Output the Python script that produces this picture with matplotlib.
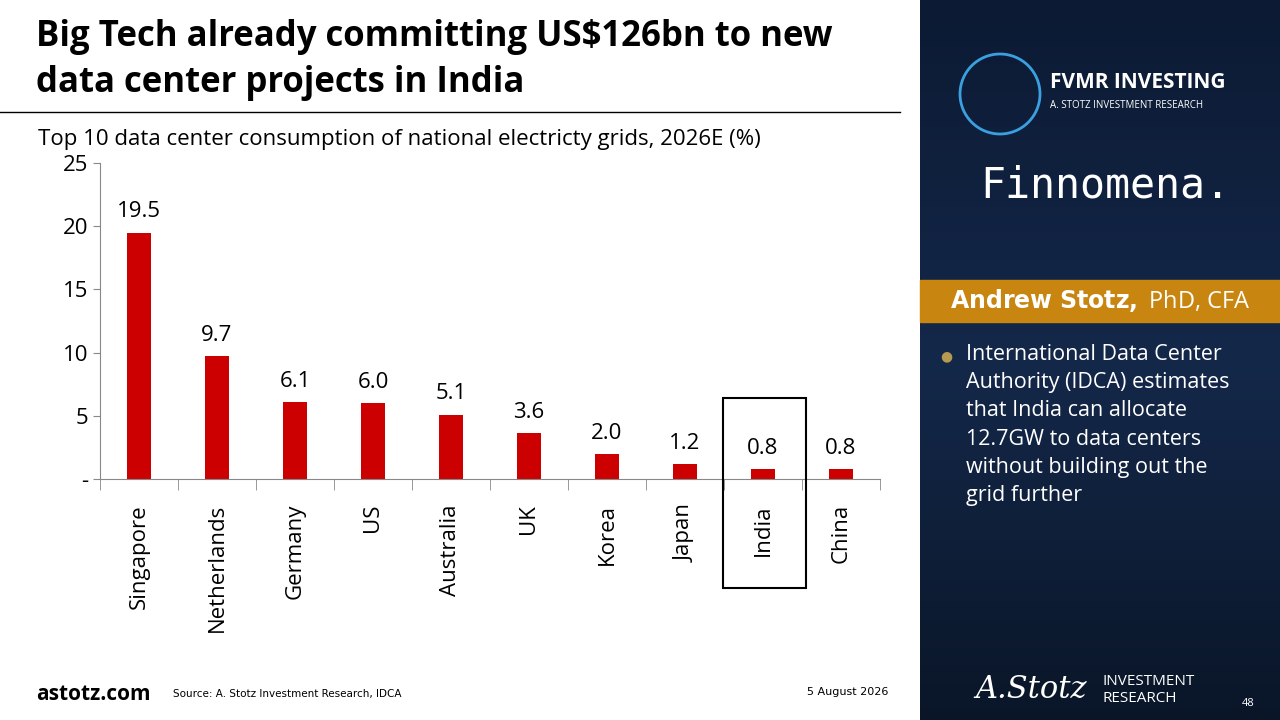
import matplotlib
matplotlib.use("Agg")
import matplotlib.pyplot as plt
from matplotlib.patches import Rectangle, Ellipse
import numpy as np

countries = ["Singapore","Netherlands","Germany","US","Australia","UK","Korea","Japan","India","China"]
values = [19.5, 9.7, 6.1, 6.0, 5.1, 3.6, 2.0, 1.2, 0.8, 0.8]
labels = ["19.5","9.7","6.1","6.0","5.1","3.6","2.0","1.2","0.8","0.8"]
yticks = [0, 5, 10, 15, 20, 25]
ytick_labels = ["-", "5", "10", "15", "20", "25"]

plt.rcParams['font.family'] = ['Open Sans', 'DejaVu Sans']
fig = plt.figure(figsize=(12.8, 7.2), dpi=100)
W, H = 1280, 720
def fx(x): return x / W
def fy(y): return 1 - y / H

# right panel
grad = np.linspace(0, 1, 256).reshape(-1, 1)
pax = fig.add_axes([fx(920), 0, 1 - fx(920), 1])
pax.imshow(grad, aspect='auto', cmap=matplotlib.colors.LinearSegmentedColormap.from_list('n', ['#0c1a33', '#14284a', '#0a1628']), extent=[0, 1, 0, 1])
pax.axis('off')
fig.patches.append(Rectangle((fx(920), fy(322)), 1 - fx(920), (322 - 280) / H, transform=fig.transFigure, color='#c8850f', zorder=2))
fig.text(fx(1100), fy(300), r"$\bf{Andrew\ Stotz,}$ PhD, CFA", color='white', fontsize=17, ha='center', va='center', zorder=3)
fig.text(fx(1050), fy(82), "FVMR INVESTING", color='white', fontsize=15, fontweight='bold', va='center')
fig.text(fx(1050), fy(106), "A. STOTZ INVESTMENT RESEARCH", color='white', fontsize=7, va='center')
fig.patches.append(Ellipse((fx(1000), fy(94)), 80 / W, 80 / H, transform=fig.transFigure, fill=False, ec='#3aa0e0', lw=2))
fig.text(fx(980), fy(186), "Finnomena.", color='white', fontsize=30, va='center', family='DejaVu Sans Mono')
fig.text(fx(940), fy(357), "●", color='#b59a50', fontsize=10, va='center')
fig.text(fx(966), fy(344), "International Data Center\nAuthority (IDCA) estimates\nthat India can allocate\n12.7GW to data centers\nwithout building out the\ngrid further",
         color='white', fontsize=15.5, va='top', linespacing=1.45)
fig.text(fx(975), fy(690), "A.Stotz", color='white', fontsize=22, style='italic', va='center', family='DejaVu Serif')
fig.text(fx(1103), fy(690), "INVESTMENT\nRESEARCH", color='white', fontsize=11, va='center')
fig.text(fx(1255), fy(704), "48", color='white', fontsize=8, ha='right', va='center')

# title
fig.text(fx(36), fy(60), "Big Tech already committing US$126bn to new\ndata center projects in India", fontsize=25, fontweight='bold', va='center', linespacing=1.4)
fig.add_artist(plt.Line2D([0, fx(900)], [fy(112), fy(112)], color='black', lw=1))
fig.text(fx(38), fy(140), "Top 10 data center consumption of national electricty grids, 2026E (%)", fontsize=16, va='center')

ax = fig.add_axes([fx(100), fy(479), fx(780), (479 - 163) / H])
x = np.arange(len(countries))
ax.bar(x, values, width=0.3, color='#cc0000')
for xi, v, l in zip(x, values, labels):
    ax.text(xi, v + 0.8, l, ha='center', va='bottom', fontsize=16)
ax.set_xlim(-0.5, len(countries) - 0.5)
ax.set_ylim(0, 25)
ax.set_yticks(yticks)
ax.set_yticklabels(ytick_labels, fontsize=16)
ax.set_xticks(x)
ax.set_xticklabels(countries, rotation=90, fontsize=16)
ax.tick_params(axis='x', length=0, pad=18)
ax.set_xticks(np.arange(-0.5, len(countries)), minor=True)
ax.tick_params(axis='x', which='minor', length=8, color='#888888')
ax.tick_params(axis='y', length=5, color='#888888')
for s in ['top', 'right']:
    ax.spines[s].set_visible(False)
for s in ['left', 'bottom']:
    ax.spines[s].set_color('#888888')

fig.add_artist(Rectangle((fx(723), fy(588)), (806 - 723) / W, (588 - 398) / H, transform=fig.transFigure, fill=False, ec='black', lw=1.5))

fig.text(fx(36), fy(694), "astotz.com", fontsize=15, fontweight='bold', va='center')
fig.text(fx(173), fy(694), "Source: A. Stotz Investment Research, IDCA", fontsize=7.5, va='center', family='DejaVu Sans')
fig.text(fx(888), fy(692), "5 August 2026", fontsize=8, ha='right', va='center', family='DejaVu Sans')

fig.savefig("out.png", dpi=100)
